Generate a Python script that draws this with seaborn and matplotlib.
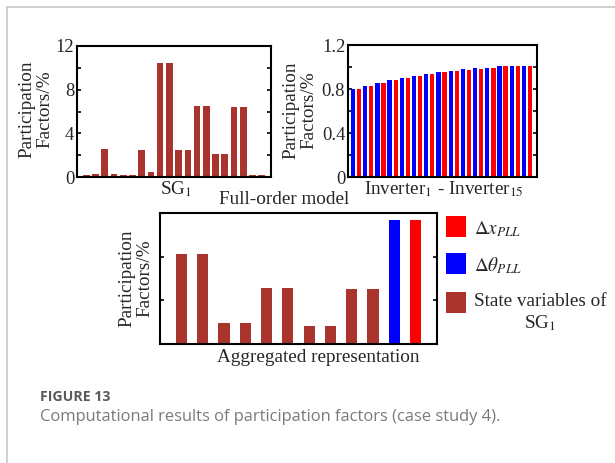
import numpy as np
import pandas as pd
import matplotlib
matplotlib.use("Agg")
import matplotlib.pyplot as plt
import seaborn as sns
from matplotlib.patches import Rectangle

# ---------------- data ----------------
sg_states = list(range(1, 21))
sg_pf = [0.15, 0.25, 2.53, 0.25, 0.15, 0.15, 2.44, 0.43, 10.4, 10.4,
         2.5, 2.5, 6.47, 6.47, 2.14, 2.14, 6.38, 6.38, 0.2, 0.2]

inv_idx = list(range(1, 31))
inv_var = ["theta", "x"] * 15
inv_pf = [0.80, 0.80, 0.83, 0.83, 0.858, 0.858, 0.885, 0.885, 0.904, 0.904,
          0.922, 0.922, 0.94, 0.94, 0.959, 0.959, 0.968, 0.968, 0.983, 0.974,
          0.995, 0.986, 0.995, 0.995, 1.005, 1.005, 1.005, 1.005, 1.005, 1.005]

agg_idx = list(range(1, 13))
agg_var = ["sg"] * 10 + ["theta", "x"]
agg_pf = [8.26, 8.26, 1.93, 1.93, 5.14, 5.14, 1.65, 1.65, 5.05, 5.05, 11.4, 11.4]

legend_labels = [r"$\Delta x_{PLL}$", r"$\Delta\theta_{PLL}$", "State variables of\nSG$_{1}$"]

C_SG = "#a8342d"
C_RED = "#ff0000"
C_BLUE = "#0000ff"
pal = {"sg": C_SG, "x": C_RED, "theta": C_BLUE}

# ---------------- style ----------------
sns.set_theme(style="white")
plt.rcParams["font.family"] = ["Liberation Serif", "DejaVu Serif"]
plt.rcParams["mathtext.fontset"] = "stix"
FS = 13.8
FS_TICK = 13.3

W, H = 615, 463
fig = plt.figure(figsize=(W / 100, H / 100), dpi=100)
fig.patch.set_facecolor("white")

def px_axes(x0, y0, x1, y1):
    return fig.add_axes([x0 / W, (H - y1) / H, (x1 - x0) / W, (y1 - y0) / H])

def style(ax, major, minor, labels=True):
    for s in ax.spines.values():
        s.set_visible(True)
        s.set_color("black")
        s.set_linewidth(1.5)
        s.set_zorder(5)
    ax.set_yticks(major)
    ax.set_yticks(minor, minor=True)
    ax.tick_params(axis="y", which="both", direction="in", left=True, right=True,
                   length=3, width=1.2, color="black", labelsize=FS_TICK, pad=2,
                   labelleft=labels)
    ax.tick_params(axis="x", which="both", bottom=False, top=False, labelbottom=False)
    ax.set_xlabel("")
    ax.set_ylabel("")
    ax.grid(False)
    ax.set_facecolor("white")

bar_kw = dict(saturation=1, linewidth=0, edgecolor="none")

# ---- top-left: SG1 ----
ax1 = px_axes(77, 46, 271, 177)
df1 = pd.DataFrame({"s": sg_states, "pf": sg_pf})
sns.barplot(data=df1, x="s", y="pf", color=C_SG, width=0.72, ax=ax1, **bar_kw)
ax1.set_xlim(-1.0, 20.0)
ax1.set_ylim(0, 12)
style(ax1, [0, 4, 8, 12], [2, 6, 10])
ax1.set_yticklabels(["0", "4", "8", "12"])

# ---- top-right: inverters ----
ax2 = px_axes(348, 45, 537, 177)
df2 = pd.DataFrame({"i": inv_idx, "v": inv_var, "pf": inv_pf})
sns.barplot(data=df2, x="i", y="pf", hue="v", palette=pal, dodge=False,
            width=0.7, legend=False, ax=ax2, **bar_kw)
ax2.set_xlim(-0.82, 30.15)
ax2.set_ylim(0, 1.2)
style(ax2, [0, 0.4, 0.8, 1.2], [0.2, 0.6, 1.0])
ax2.set_yticklabels(["0", "0.4", "0.8", "1.2"])

# ---- bottom: aggregated ----
ax3 = px_axes(160, 213, 437, 344)
df3 = pd.DataFrame({"i": agg_idx, "v": agg_var, "pf": agg_pf})
sns.barplot(data=df3, x="i", y="pf", hue="v", palette=pal, dodge=False,
            width=0.53, legend=False, ax=ax3, **bar_kw)
ax3.set_xlim(-1.0, 12.0)
ax3.set_ylim(0, 12)
style(ax3, [0, 4, 8, 12], [], labels=False)

# ---- texts ----
def ftext(x, y, s, **kw):
    kw.setdefault("fontsize", FS)
    kw.setdefault("ha", "center")
    kw.setdefault("va", "center")
    return fig.text(x / W, 1 - y / H, s, **kw)

yl = "Participation\nFactors/%"
ftext(36, 109, yl, rotation=90, linespacing=1.1)
ftext(300, 110, yl, rotation=90, linespacing=1.1)
ftext(136, 278, yl, rotation=90, linespacing=1.1)

ftext(176, 189, "SG$_{1}$")
ftext(284, 200, "Full-order model")
ftext(444, 189, "Inverter$_{1}$ - Inverter$_{15}$")
ftext(318, 357, "Aggregated representation")

# ---- legend (manual) ----
leg_cols = [C_RED, C_BLUE, C_SG]
leg_y = [227, 263.5, 302.5]
for c, yc in zip(leg_cols, leg_y):
    fig.add_artist(Rectangle((446 / W, 1 - (yc + 10.5) / H), 20 / W, 21 / H,
                             transform=fig.transFigure, facecolor=c, edgecolor="none"))
ftext(474, 229, legend_labels[0], ha="left")
ftext(474, 266, legend_labels[1], ha="left")
ftext(540, 313, legend_labels[2], ha="center", multialignment="center", linespacing=1.2)

# ---- card frame ----
fig.add_artist(plt.Line2D([7 / W, 7 / W], [0, 1 - 7 / H], transform=fig.transFigure,
                          color="#c8c8c8", lw=1.2))
fig.add_artist(plt.Line2D([7 / W, 1], [1 - 7 / H, 1 - 7 / H], transform=fig.transFigure,
                          color="#c8c8c8", lw=1.2))

# ---- caption ----
t1 = ftext(40, 397, "FIGURE 13", ha="left", family=["Open Sans", "DejaVu Sans"],
           fontweight="bold", color="#5a5a5a", fontsize=11)
t2 = ftext(40, 417, "Computational results of participation factors (case study 4).",
           ha="left", family=["Open Sans", "DejaVu Sans"], color="#7a7a7a", fontsize=11)
fig.canvas.draw()
r = fig.canvas.get_renderer()
w2 = t2.get_window_extent(r).width
t2.set_fontsize(11 * 464 / w2)
w1 = t1.get_window_extent(r).width
t1.set_fontsize(11 * 70 / w1)

fig.savefig("out.png", dpi=100)
